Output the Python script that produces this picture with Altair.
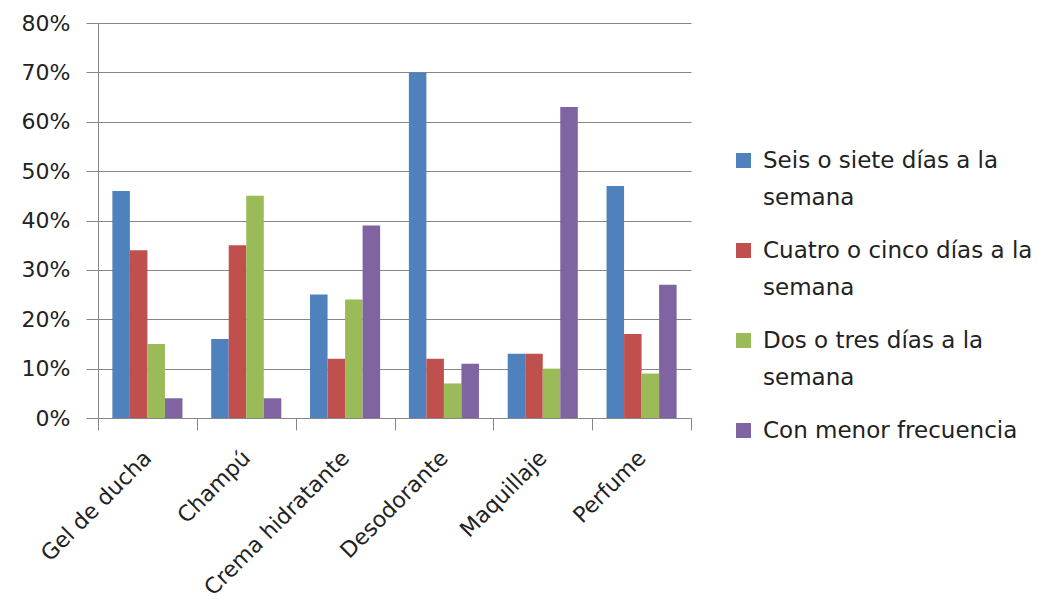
import altair as alt
import pandas as pd

categories = ["Gel de ducha", "Champú", "Crema hidratante", "Desodorante", "Maquillaje", "Perfume"]
series = [
    "Seis o siete días a la semana",
    "Cuatro o cinco días a la semana",
    "Dos o tres días a la semana",
    "Con menor frecuencia",
]
seis = [0.46, 0.16, 0.25, 0.70, 0.13, 0.47]
cuatro = [0.34, 0.35, 0.12, 0.12, 0.13, 0.17]
dos = [0.15, 0.45, 0.24, 0.07, 0.10, 0.09]
menor = [0.04, 0.04, 0.39, 0.11, 0.63, 0.27]
colors = ["#4F81BD", "#C0504D", "#9BBB59", "#8064A2"]
y_ticks = [0, 0.1, 0.2, 0.3, 0.4, 0.5, 0.6, 0.7, 0.8]

rows = []
for s, vals in zip(series, [seis, cuatro, dos, menor]):
    for c, v in zip(categories, vals):
        rows.append({"Producto": c, "Frecuencia": s, "Valor": v})
df = pd.DataFrame(rows)

FONT = "DejaVu Sans"
GRID = "#868686"
TEXT = "#222222"

label_expr = "split(replace(datum.label, ' a la semana', ' a la|semana'), '|')"

chart = (
    alt.Chart(df)
    .mark_bar()
    .encode(
        x=alt.X(
            "Producto:N",
            sort=categories,
            title=None,
            scale=alt.Scale(paddingInner=0, paddingOuter=0),
            axis=alt.Axis(
                labelAngle=-45,
                labelAlign="right",
                labelBaseline="middle",
                labelFont=FONT,
                labelFontSize=22,
                labelColor=TEXT,
                labelPadding=24,
                labelLimit=400,
                labelOverlap=False,
                tickBand="extent",
                tickSize=12,
                tickColor=GRID,
                domainColor=GRID,
                grid=False,
            ),
        ),
        xOffset=alt.XOffset(
            "Frecuencia:N",
            sort=series,
            scale=alt.Scale(paddingInner=0, paddingOuter=0.82),
        ),
        y=alt.Y(
            "Valor:Q",
            title=None,
            scale=alt.Scale(domain=[0, 0.8], nice=False),
            axis=alt.Axis(
                values=y_ticks,
                format=".0%",
                labelFont=FONT,
                labelFontSize=22,
                labelColor=TEXT,
                labelPadding=16,
                tickSize=12,
                tickColor=GRID,
                domainColor=GRID,
                gridColor=GRID,
                gridWidth=1,
            ),
        ),
        color=alt.Color(
            "Frecuencia:N",
            sort=series,
            scale=alt.Scale(domain=series, range=colors),
            legend=alt.Legend(
                title=None,
                orient="none",
                legendX=634,
                legendY=126,
                symbolType="square",
                symbolSize=225,
                symbolStrokeWidth=0,
                labelFont=FONT,
                labelFontSize=23,
                labelColor=TEXT,
                labelExpr=label_expr,
                labelLimit=400,
                rowPadding=29,
                labelOffset=8,
            ),
        ),
    )
    .properties(
        width=593,
        height=395,
        padding={"left": 98, "top": 23, "right": 351, "bottom": 189},
        autosize="none",
        background="white",
    )
    .configure(style={"guide-label": {"lineHeight": 37}})
    .configure_view(stroke=None)
)

chart.save("out.html", embed_options={"renderer": "svg", "actions": False})
